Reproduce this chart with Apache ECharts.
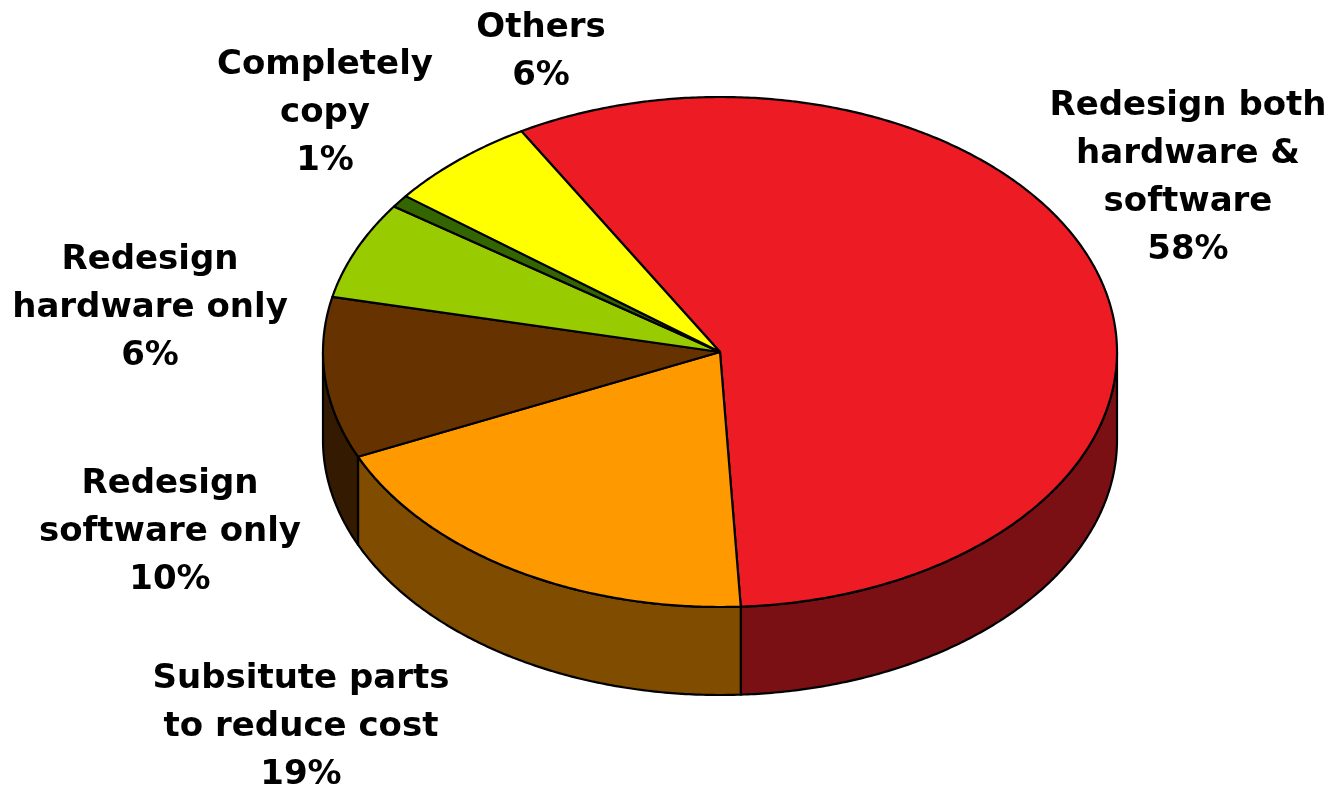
<!DOCTYPE html>
<html>
<head>
<meta charset="utf-8">
<script src="https://cdn.jsdelivr.net/npm/echarts@6/dist/echarts.min.js"></script>
<style>
html,body{margin:0;padding:0;background:#fff;}
#chart{width:1332px;height:787px;}
</style>
</head>
<body>
<div id="chart"></div>
<script>
// ---- data ----
const categories = [
  "Redesign both\nhardware &\nsoftware",
  "Subsitute parts\nto reduce cost",
  "Redesign\nsoftware only",
  "Redesign\nhardware only",
  "Completely\ncopy",
  "Others"
];
const values = [57.5, 19.1, 10.2, 6.2, 0.8, 6.2];

// ---- styles / layout ----
const topColors  = ["#ED1C24", "#FF9900", "#663300", "#99CC00", "#336600", "#FFFF00"];
const sideColors = ["#7A0F14", "#804C00", "#331A00", "#4D6600", "#1A3300", "#808000"];
const labelPos = [[1188, 178], [301, 727], [170, 532], [150, 308], [325, 113], [541, 52]];
const CX = 720, CY = 352, RX = 397, RY = 255, DEPTH = 88, START = 120;

const total = values.reduce((a, b) => a + b, 0);
const cum = [];
values.reduce((acc, v, i) => { cum[i] = acc; return acc + v; }, 0);

function pt(aDeg, dy) {
  const a = aDeg * Math.PI / 180;
  return [CX + RX * Math.cos(a), CY - RY * Math.sin(a) + (dy || 0)];
}
function arc(from, to, dy) {
  const pts = [];
  const n = Math.max(2, Math.ceil(Math.abs(from - to) / 0.5));
  for (let k = 0; k <= n; k++) pts.push(pt(from + (to - from) * k / n, dy));
  return pts;
}

function renderItem(params, api) {
  const i = params.dataIndex;
  const v = api.value(0);
  const a0 = START - cum[i] / total * 360;
  const a1 = a0 - v / total * 360;
  const children = [];
  // front side wall (visible where the rim faces the viewer)
  for (let k = -1; k <= 1; k++) {
    const lo = Math.max(a1, -180 + 360 * k);
    const hi = Math.min(a0, 0 + 360 * k);
    if (hi > lo) {
      const topArc = arc(hi, lo, 0);
      const botArc = arc(lo, hi, DEPTH);
      children.push({
        type: 'polygon',
        shape: { points: topArc.concat(botArc) },
        style: { fill: sideColors[i], stroke: '#000', lineWidth: 2.2, lineJoin: 'round' }
      });
    }
  }
  // top face
  const top = [[CX, CY]].concat(arc(a0, a1, 0));
  children.push({
    type: 'polygon',
    shape: { points: top },
    style: { fill: topColors[i], stroke: '#000', lineWidth: 2.2, lineJoin: 'round' }
  });
  children.push({
    type: 'text',
    x: labelPos[i][0], y: labelPos[i][1],
    style: {
      text: categories[i] + "\n" + Math.round(v * 100 / total) + "%",
      fill: '#000',
      fontFamily: 'DejaVu Sans', fontWeight: 'bold', fontSize: 34,
      lineHeight: 48,
      align: 'center', verticalAlign: 'middle'
    }
  });
  return { type: 'group', children: children };
}

const chart = echarts.init(document.getElementById('chart'), null, { renderer: 'canvas' });
chart.setOption({
  backgroundColor: '#fff',
  animation: false,
  series: [{
    type: 'custom',
    coordinateSystem: 'none',
    renderItem: renderItem,
    data: values.map(v => [v])
  }]
});
</script>
</body>
</html>
